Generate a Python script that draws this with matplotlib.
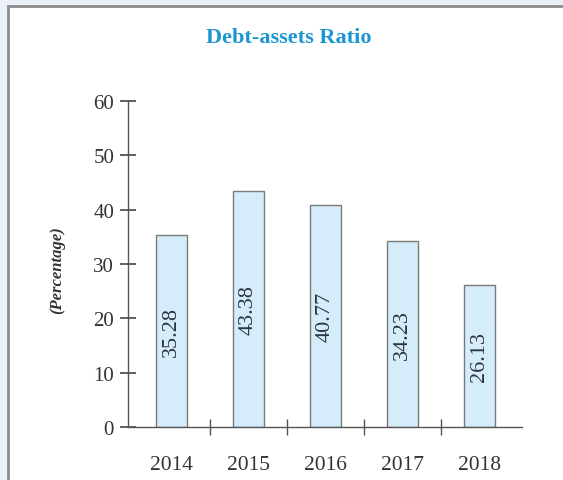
import matplotlib
matplotlib.use("Agg")
import matplotlib.pyplot as plt
from matplotlib.patches import Rectangle

years = ["2014", "2015", "2016", "2017", "2018"]
ratios = [35.28, 43.38, 40.77, 34.23, 26.13]
y_ticks = [0, 10, 20, 30, 40, 50, 60]

plt.rcParams["font.family"] = ["Liberation Serif", "DejaVu Serif"]

W, H = 563, 481
fig = plt.figure(figsize=(W / 100, H / 100), dpi=100, facecolor="#eaf1f8")

# white panel with a grey frame (left and top edges visible)
fig.patches.append(Rectangle((8 / W, -0.02), 1.05, 1 - 7 / H + 0.02,
                             transform=fig.transFigure, facecolor="white",
                             edgecolor="#8c8c8c", linewidth=2, zorder=-5))

ax = fig.add_axes([128 / W, 53 / H, 394 / W, 326 / H])
ax.set_zorder(2)
ax.set_facecolor("none")

x = list(range(len(years)))
bars = ax.bar(x, ratios, width=0.40, color="#d5edfa", edgecolor="#7a7a7a",
              linewidth=1.0, zorder=2)

for xi, v in zip(x, ratios):
    ax.text(xi, v / 2, f"{v:.2f}", rotation=90, ha="center", va="center",
            fontsize=16, color="#2b3440", zorder=3)

ax.set_xlim(-0.565, 4.55)
ax.set_ylim(0, 60)
ax.set_yticks(y_ticks)
ax.set_yticklabels([str(t) for t in y_ticks], fontsize=15, color="#333333")
ax.set_xticks(x)
ax.set_xticklabels(years, fontsize=15.5, color="#333333")
ax.set_xticks([0.5, 1.5, 2.5, 3.5], minor=True)

ax.tick_params(axis="x", which="major", length=0, pad=20)
ax.tick_params(axis="x", which="minor", direction="inout", length=12,
               width=1, color="#555555")
ax.tick_params(axis="y", direction="inout", length=12, width=1.2,
               color="#444444", pad=4)

for side in ("top", "right"):
    ax.spines[side].set_visible(False)
for side in ("left", "bottom"):
    ax.spines[side].set_color("#555555")
    ax.spines[side].set_linewidth(1.0)

fig.text(57 / W, 1 - 270 / H, "(Percentage)", rotation=90, ha="center",
         va="center", fontsize=12, fontweight="bold", fontstyle="italic",
         color="#333333")

fig.text(289 / W, 1 - 38 / H, "Debt-assets Ratio", ha="center", va="center",
         fontsize=16, fontweight="bold", color="#1a96d2")

fig.savefig("out.png", dpi=100, facecolor=fig.get_facecolor())
